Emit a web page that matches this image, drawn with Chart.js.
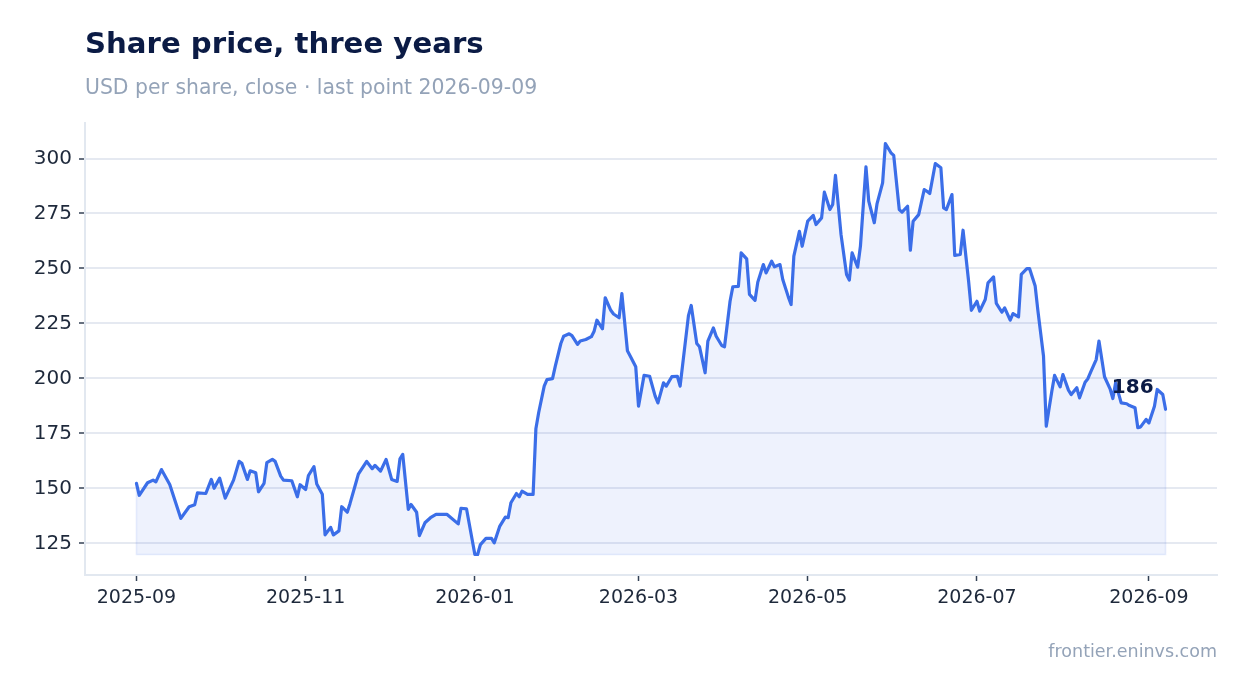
<!DOCTYPE html>
<html>
<head>
<meta charset="utf-8">
<script src="https://cdn.jsdelivr.net/npm/chart.js@4"></script>
<style>
  html, body { margin: 0; padding: 0; background: #fff; }
  #wrap { position: relative; width: 1247px; height: 693px; overflow: hidden; font-family: "DejaVu Sans", sans-serif; }
  #wrap canvas { position: absolute; left: 0; top: 0; }
  .txt { position: absolute; white-space: nowrap; }
  #title { left: 85px; top: 29px; font-size: 29.2px; line-height: 29px; font-weight: bold; color: #0b1b45; }
  #subtitle { left: 85px; top: 77px; font-size: 20.4px; line-height: 20px; color: #94a3b8; }
  #source { right: 30px; top: 643px; font-size: 17.5px; line-height: 17px; color: #94a3b8; }
</style>
</head>
<body>
<div id="wrap">
  <canvas id="priceChart" width="1247" height="693"></canvas>
  <div class="txt" id="title">Share price, three years</div>
  <div class="txt" id="subtitle">USD per share, close · last point 2026-09-09</div>
  <div class="txt" id="source">frontier.eninvs.com</div>
</div>
<script>
// x axis: days since 2025-09-01, month ticks every two months
const tickDays = [0, 61, 122, 181, 242, 303, 365];
const tickLabels = ['2025-09', '2025-11', '2026-01', '2026-03', '2026-05', '2026-07', '2026-09'];
const yTicks = [125, 150, 175, 200, 225, 250, 275, 300];

// close prices (USD)
const days = [
  0, 1, 4, 6, 7, 9, 12, 16, 19, 21,
  22, 25, 27, 28, 30, 32, 35, 37, 38, 40,
  41, 43, 44, 46, 47, 49, 50, 52, 53, 56,
  58, 59, 61, 62, 64, 65, 67, 68, 70, 71,
  73, 74, 76, 77, 79, 80, 83, 85, 86, 88,
  90, 92, 94, 95, 96, 98, 99, 101, 102, 104,
  106, 108, 112, 116, 117, 119, 122, 123, 124, 126,
  128, 129, 131, 133, 134, 135, 137, 138, 139, 141,
  143, 144, 145, 147, 148, 150, 151, 153, 154, 156,
  157, 159, 160, 162, 164, 165, 166, 168, 169, 171,
  172, 174, 175, 177, 178, 180, 181, 183, 185, 187,
  188, 190, 191, 193, 195, 196, 199, 200, 202, 203,
  205, 206, 208, 209, 211, 212, 214, 215, 217, 218,
  220, 221, 223, 224, 226, 227, 229, 230, 232, 233,
  235, 236, 237, 239, 240, 242, 244, 245, 247, 248,
  250, 251, 252, 254, 256, 257, 258, 260, 261, 263,
  264, 266, 267, 269, 270, 272, 273, 275, 276, 278,
  279, 280, 282, 284, 285, 286, 288, 290, 291, 292,
  294, 295, 297, 298, 300, 301, 303, 304, 306, 307,
  309, 310, 312, 313, 315, 316, 318, 319, 321, 322,
  324, 325, 327, 328, 330, 331, 333, 334, 336, 337,
  339, 340, 342, 343, 344, 346, 347, 349, 351, 352,
  353, 355, 357, 358, 360, 361, 362, 364, 365, 367,
  368, 370, 371
];
const closes = [
  152.3, 146.9, 152.6, 153.8, 153.0, 158.6, 151.8, 136.4, 141.7, 142.6,
  148.0, 147.7, 154.1, 150.1, 154.7, 145.6, 153.8, 162.3, 161.4, 154.1,
  158.0, 157.1, 148.5, 152.3, 161.7, 163.2, 162.3, 155.6, 153.8, 153.5,
  146.2, 151.7, 149.5, 155.9, 159.9, 152.0, 147.4, 128.9, 132.3, 128.9,
  130.7, 141.7, 139.2, 143.2, 152.0, 156.5, 162.3, 159.0, 160.5, 157.9,
  163.2, 154.1, 153.2, 163.5, 165.5, 140.5, 142.7, 139.2, 128.6, 134.4,
  136.7, 138.2, 138.2, 133.9, 141.0, 140.7, 120.0, 120.0, 124.5, 127.3,
  127.3, 125.3, 132.9, 137.0, 136.7, 143.5, 147.7, 146.2, 148.8, 147.3,
  147.3, 177.1, 184.4, 196.5, 199.5, 199.9, 205.6, 215.9, 219.2, 220.3,
  219.5, 215.5, 217.0, 217.7, 219.0, 221.5, 226.5, 222.6, 236.7, 231.0,
  229.3, 227.6, 238.6, 212.6, 210.2, 205.3, 187.4, 201.4, 201.0, 192.0,
  188.9, 198.0, 196.5, 200.8, 201.0, 196.5, 228.6, 233.2, 215.9, 214.4,
  202.6, 217.0, 223.0, 219.2, 215.0, 214.4, 235.1, 241.7, 241.9, 257.1,
  254.4, 238.2, 235.5, 243.8, 251.8, 248.0, 253.3, 250.8, 251.8, 245.0,
  237.1, 233.6, 255.6, 266.9, 260.1, 271.5, 274.1, 270.0, 273.0, 284.7,
  276.8, 279.1, 292.3, 265.5, 247.3, 244.7, 257.1, 250.6, 260.1, 296.2,
  280.6, 270.8, 279.5, 288.9, 306.8, 302.6, 301.4, 276.8, 275.6, 278.3,
  258.3, 271.5, 274.5, 285.9, 285.1, 284.1, 297.7, 295.8, 277.6, 276.8,
  283.6, 255.9, 256.4, 267.4, 244.2, 231.0, 235.1, 230.6, 235.9, 243.5,
  246.2, 234.1, 230.1, 232.1, 226.5, 229.5, 228.0, 247.3, 249.9, 249.9,
  242.0, 230.6, 210.2, 178.3, 194.2, 201.4, 196.2, 201.8, 194.7, 192.7,
  195.8, 191.2, 198.3, 199.9, 202.9, 208.6, 217.0, 200.8, 195.3, 190.9,
  198.0, 188.9, 188.5, 187.7, 186.7, 177.6, 178.0, 181.4, 179.8, 187.4,
  195.0, 192.7, 186.0
];

const points = days.map((d, i) => ({ x: d, y: closes[i] }));
const firstDay = days[0];
const lastDay = days[days.length - 1];
const lo = Math.min(...closes);
const hi = Math.max(...closes);
const xPad = (lastDay - firstDay) * 0.05;
const yPad = (hi - lo) * 0.05;

// faint edge round the shaded area
const areaEdge = [
  { x: firstDay, y: closes[0] },
  { x: firstDay, y: lo },
  { x: lastDay, y: lo },
  { x: lastDay, y: closes[closes.length - 1] }
];

const LINE = '#3b6ee8';
const NAVY = '#0b1b45';
const TICK_TEXT = '#1e293b';

// last value label next to the end of the line
const lastLabel = {
  id: 'lastLabel',
  afterDatasetsDraw(chart) {
    const meta = chart.getDatasetMeta(0);
    const pt = meta.data[meta.data.length - 1];
    const c = chart.ctx;
    c.save();
    c.font = 'bold 20px "DejaVu Sans"';
    c.fillStyle = NAVY;
    c.textAlign = 'right';
    c.textBaseline = 'alphabetic';
    c.fillText(String(Math.round(closes[closes.length - 1])), pt.x - 12, pt.y - 16);
    c.restore();
  }
};

const ctx = document.getElementById('priceChart').getContext('2d');
new Chart(ctx, {
  type: 'line',
  data: {
    datasets: [{
      label: 'Close',
      data: points,
      borderColor: LINE,
      borderWidth: 3.2,
      borderJoinStyle: 'round',
      borderCapStyle: 'round',
      backgroundColor: 'rgba(59, 110, 232, 0.087)',
      fill: { value: lo },
      tension: 0,
      pointRadius: 0
    }, {
      label: 'edge',
      data: areaEdge,
      borderColor: 'rgba(59, 110, 232, 0.12)',
      borderWidth: 1.5,
      fill: false,
      tension: 0,
      pointRadius: 0
    }]
  },
  options: {
    responsive: false,
    animation: false,
    devicePixelRatio: 1,
    layout: { padding: { top: 123, right: 30, bottom: 68, left: 0 } },
    plugins: {
      legend: { display: false },
      tooltip: { enabled: false }
    },
    scales: {
      x: {
        type: 'linear',
        min: firstDay - xPad,
        max: lastDay + xPad,
        afterBuildTicks: (scale) => { scale.ticks = tickDays.map(v => ({ value: v })); },
        afterFit: (scale) => { scale.height = 50; },
        ticks: {
          callback: (v, i) => tickLabels[i],
          color: TICK_TEXT,
          font: { family: 'DejaVu Sans', size: 19 },
          padding: 6,
          maxRotation: 0,
          autoSkip: false
        },
        grid: {
          drawOnChartArea: false,
          drawTicks: true,
          tickLength: 6,
          tickColor: '#334155',
          tickWidth: 1.5
        },
        border: { display: true, color: '#e2e8f0', width: 2 }
      },
      y: {
        type: 'linear',
        min: lo - yPad,
        max: hi + yPad,
        afterBuildTicks: (scale) => { scale.ticks = yTicks.map(v => ({ value: v })); },
        afterFit: (scale) => { scale.width = 85; },
        ticks: {
          color: TICK_TEXT,
          font: { family: 'DejaVu Sans', size: 20 },
          padding: 7
        },
        grid: {
          color: '#e5e9f1',
          lineWidth: 2,
          drawTicks: true,
          tickLength: 6,
          tickColor: '#334155',
          tickWidth: 1.5
        },
        border: { display: true, color: '#e2e8f0', width: 2 }
      }
    }
  },
  plugins: [lastLabel]
});
</script>
</body>
</html>
